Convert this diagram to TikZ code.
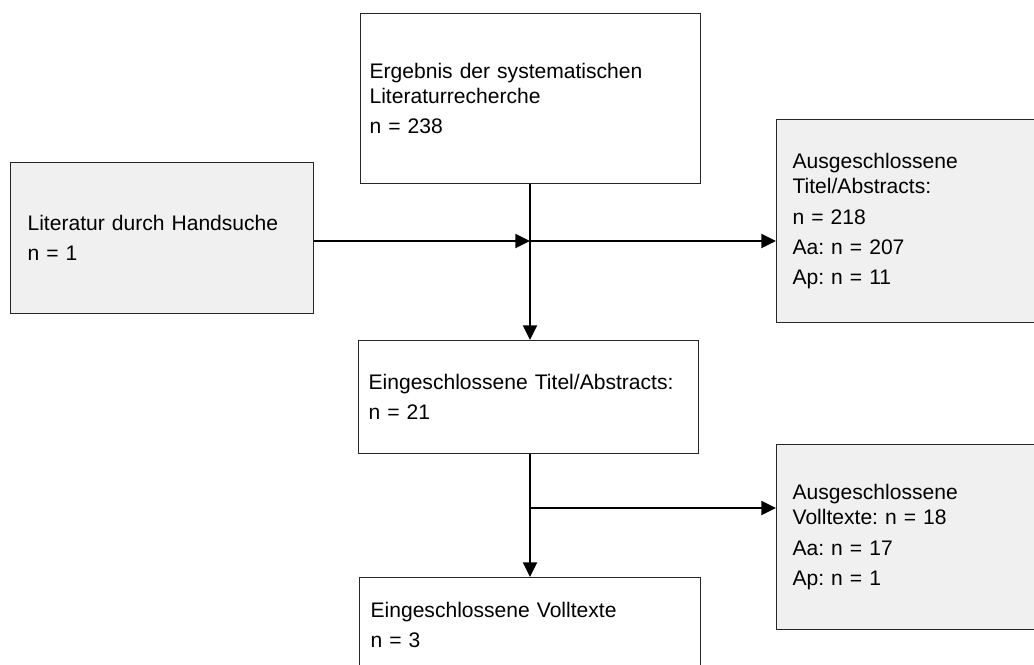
\documentclass[tikz,border=0pt]{standalone}
\usepackage{fontspec}
\setmainfont{Liberation Sans}
\usetikzlibrary{arrows.meta}
\definecolor{boxgray}{HTML}{F0F0F0}
\frenchspacing
\begin{document}
\begin{tikzpicture}[x=0.75pt, y=-0.75pt,
   box/.style={draw=black!85, line width=0.9pt, rectangle, anchor=north west,
     align=left, inner ysep=0pt, font=\fontsize{15.8}{18.8}\selectfont},
   graybox/.style={box, fill=boxgray},
   flow/.style={line width=1.4pt, -{Triangle[length=11pt, width=10.5pt]}}]
   \newdimen\U
   \U=0.75pt
   \useasboundingbox (0,0) rectangle (1034,664);
   % boxes
   \node[box, inner xsep=9\U, text width=322\U, minimum height=170\U] (lit) at (360,13)
     {Ergebnis der systematischen\\ Literaturrecherche\\[3.8pt] n = 238};
   \node[graybox, inner xsep=17\U, text width=269\U, minimum height=151\U] (hand) at (10,162)
     {Literatur durch Handsuche\\[3.8pt] n = 1};
   \node[graybox, inner xsep=16\U, text width=288\U, minimum height=203\U] (exA) at (776,119)
     {Ausgeschlossene\\ Titel/Abstracts:\\[3.8pt] n = 218\\[3.8pt] Aa: n = 207\\[3.8pt] Ap: n = 11};
   \node[box, inner xsep=10\U, text width=320\U, minimum height=113\U] (incA) at (358,340)
     {Eingeschlossene Titel/Abstracts:\\[3.8pt] n = 21};
   \node[graybox, inner xsep=16\U, text width=288\U, minimum height=185\U] (exV) at (776,444)
     {Ausgeschlossene\\ Volltexte: n = 18\\[3.8pt] Aa: n = 17\\[3.8pt] Ap: n = 1};
   \node[box, inner xsep=11\U, text width=319\U, minimum height=95\U] (incV) at (359,577)
     {Eingeschlossene Volltexte\\[3.8pt] n = 3};
   % junctions
   \coordinate (j1) at (530,241);
   \coordinate (j2) at (530,508);
   % connectors
   \draw[flow] (lit.south -| j1) -- (incA.north -| j1);
   \draw[flow] (hand.east |- j1) -- (j1);
   \draw[flow] (j1) -- (exA.west |- j1);
   \draw[flow] (incA.south -| j2) -- (incV.north -| j2);
   \draw[flow] (j2) -- (exV.west |- j2);
\end{tikzpicture}
\end{document}
